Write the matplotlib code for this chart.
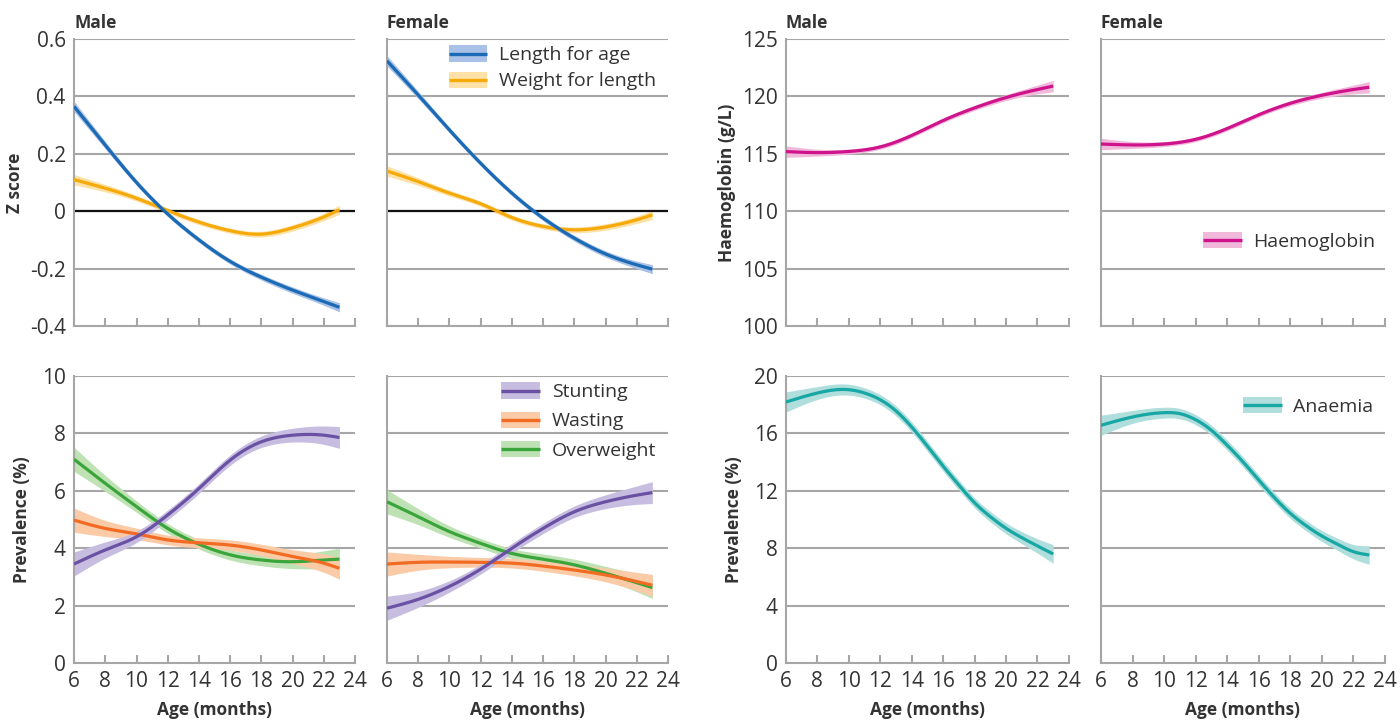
import numpy as np
import matplotlib
matplotlib.use("Agg")
import matplotlib.pyplot as plt
from matplotlib.patches import Rectangle
from matplotlib.lines import Line2D
from matplotlib.legend_handler import HandlerBase

plt.rcParams["font.family"] = ["Open Sans", "DejaVu Sans"]

# ages (months)
age = [6, 8, 10, 12, 14, 16, 18, 20, 22, 23]

# z scores
laz_male = [0.365, 0.23, 0.10, -0.01, -0.10, -0.175, -0.23, -0.275, -0.315, -0.335]
wlz_male = [0.11, 0.08, 0.045, 0.002, -0.038, -0.068, -0.08, -0.058, -0.02, 0.005]
laz_female = [0.524, 0.405, 0.283, 0.167, 0.063, -0.024, -0.094, -0.149, -0.187, -0.202]
wlz_female = [0.14, 0.103, 0.063, 0.026, -0.022, -0.053, -0.065, -0.055, -0.03, -0.013]
z_ci = [0.018, 0.013, 0.01, 0.009, 0.009, 0.009, 0.01, 0.011, 0.013, 0.016]

# prevalence (%)
stunt_male = [3.45, 3.94, 4.40, 5.16, 6.08, 7.07, 7.71, 7.94, 7.94, 7.86]
waste_male = [4.98, 4.69, 4.50, 4.29, 4.19, 4.11, 3.94, 3.71, 3.48, 3.30]
over_male = [7.10, 6.26, 5.45, 4.69, 4.14, 3.77, 3.59, 3.53, 3.59, 3.62]
stunt_female = [1.91, 2.22, 2.67, 3.27, 4.00, 4.69, 5.27, 5.62, 5.85, 5.94]
waste_female = [3.45, 3.51, 3.52, 3.51, 3.48, 3.38, 3.24, 3.07, 2.84, 2.71]
over_female = [5.62, 5.10, 4.58, 4.17, 3.82, 3.62, 3.42, 3.13, 2.80, 2.63]
prev_ci = [0.42, 0.28, 0.2, 0.17, 0.17, 0.18, 0.2, 0.24, 0.32, 0.38]

# haemoglobin (g/L)
hb_male = [115.19, 115.1, 115.2, 115.6, 116.6, 117.9, 119.0, 119.9, 120.6, 120.9]
hb_female = [115.85, 115.77, 115.85, 116.26, 117.2, 118.4, 119.4, 120.1, 120.6, 120.8]
hb_ci = [0.5, 0.3, 0.22, 0.2, 0.2, 0.2, 0.22, 0.26, 0.38, 0.5]

# anaemia (%)
age_an = [6, 8, 10, 11, 12, 13, 14, 15, 16, 17, 18, 19, 20, 21, 22, 23]
an_male = [18.19, 18.82, 19.05, 18.82, 18.35, 17.57, 16.45, 15.11, 13.72, 12.4,
           11.17, 10.2, 9.39, 8.74, 8.16, 7.6]
an_female = [16.57, 17.15, 17.45, 17.38, 16.96, 16.22, 15.18, 14.02, 12.75, 11.52,
             10.43, 9.57, 8.85, 8.27, 7.76, 7.53]
an_ci = [0.7, 0.45, 0.38, 0.36, 0.35, 0.35, 0.35, 0.35, 0.35, 0.35,
         0.35, 0.36, 0.38, 0.42, 0.5, 0.65]

C = {
    "laz": ("#1b6ab5", "#a9c1e6"),
    "wlz": ("#f6aa0a", "#fde1a6"),
    "stunt": ("#6a51a3", "#c6bde0"),
    "waste": ("#f26b22", "#fbcaa6"),
    "over": ("#3aa53a", "#bfe2b4"),
    "hb": ("#cf138c", "#f0b9da"),
    "an": ("#17a7a4", "#b0dedc"),
}

GRID = "#a6a6a6"
TXT = "#333333"


def smooth(x, y, n=300):
    # natural cubic spline through the read points
    x = np.asarray(x, float)
    y = np.asarray(y, float)
    m = len(x)
    hh = np.diff(x)
    A = np.zeros((m, m))
    r = np.zeros(m)
    A[0, 0] = A[-1, -1] = 1
    for i in range(1, m - 1):
        A[i, i - 1] = hh[i - 1]
        A[i, i] = 2 * (hh[i - 1] + hh[i])
        A[i, i + 1] = hh[i]
        r[i] = 6 * ((y[i + 1] - y[i]) / hh[i] - (y[i] - y[i - 1]) / hh[i - 1])
    M = np.linalg.solve(A, r)
    xs = np.linspace(x[0], x[-1], n)
    k = np.clip(np.searchsorted(x, xs, side="right") - 1, 0, m - 2)
    h = hh[k]
    a = (x[k + 1] - xs) / h
    b = (xs - x[k]) / h
    ys = (a * y[k] + b * y[k + 1]
          + ((a ** 3 - a) * M[k] + (b ** 3 - b) * M[k + 1]) * h ** 2 / 6)
    return xs, ys


def curve(ax, x, y, ci, key):
    line, band = C[key]
    xs, ys = smooth(x, y)
    _, cs = smooth(x, ci)
    ax.fill_between(xs, ys - cs, ys + cs, color=band, lw=0, zorder=2)
    ax.plot(xs, ys, color=line, lw=2.3, zorder=3, solid_capstyle="butt")


def style(ax, yticks, show_x):
    ax.set_xlim(6, 24)
    ax.set_ylim(yticks[0], yticks[-1])
    ax.set_yticks(yticks)
    ax.set_xticks(range(6, 25, 2))
    for s in ["top", "right"]:
        ax.spines[s].set_visible(False)
    for s in ["left", "bottom"]:
        ax.spines[s].set_color(GRID)
        ax.spines[s].set_linewidth(1.5)
    for yv in yticks[1:]:
        ax.axhline(yv, color=GRID, lw=1.5, zorder=1)
    ax.tick_params(axis="x", direction="in", length=6, width=1.5, color=GRID,
                   labelsize=15, labelcolor=TXT, pad=6)
    ax.tick_params(axis="y", length=0, labelsize=15, labelcolor=TXT, pad=6)
    if show_x:
        ax.set_xlabel("Age (months)", fontsize=12.5, fontweight="bold", color=TXT, labelpad=6)
    else:
        ax.tick_params(axis="x", labelbottom=False)


class BandKey:
    def __init__(self, key):
        self.line, self.band = C[key]


class BandHandler(HandlerBase):
    def create_artists(self, legend, orig, xdescent, ydescent, width, height, fontsize, trans):
        bh = fontsize * 0.85
        yc = -ydescent + height / 2
        r = Rectangle((-xdescent, yc - bh / 2), width, bh, facecolor=orig.band,
                      edgecolor="none", transform=trans)
        ln = Line2D([-xdescent, -xdescent + width], [yc, yc], color=orig.line, lw=2.4,
                    solid_capstyle="butt", transform=trans)
        return [r, ln]


def legend(ax, items, spacing=0.35, **kw):
    handles = [BandKey(k) for k, _ in items]
    labels = [lab for _, lab in items]
    ax.legend(handles, labels, handler_map={BandKey: BandHandler()},
              frameon=False, fontsize=14, handlelength=2.0, handleheight=1.0,
              handletextpad=0.6, labelspacing=spacing, labelcolor=TXT, **kw)


fig = plt.figure(figsize=(14, 7.21), dpi=100)
lefts = [0.0529, 0.2764, 0.5614, 0.7864]
widths = [0.2007, 0.2007, 0.2021, 0.2029]
top_b, bot_b, h = 0.5479, 0.0804, 0.398
axs_top = [fig.add_axes([l, top_b, w, h]) for l, w in zip(lefts, widths)]
axs_bot = [fig.add_axes([l, bot_b, w, h]) for l, w in zip(lefts, widths)]

z_ticks = [-0.4, -0.2, 0, 0.2, 0.4, 0.6]
z_labels = ["-0.4", "-0.2", "0", "0.2", "0.4", "0.6"]
for i, ax in enumerate(axs_top[:2]):
    style(ax, z_ticks, False)
    ax.set_yticklabels(z_labels if i == 0 else [])
    ax.axhline(0, color="#111111", lw=1.6, zorder=2.5)
curve(axs_top[0], age, wlz_male, z_ci, "wlz")
curve(axs_top[0], age, laz_male, z_ci, "laz")
curve(axs_top[1], age, wlz_female, z_ci, "wlz")
curve(axs_top[1], age, laz_female, z_ci, "laz")
axs_top[0].set_ylabel("Z score", fontsize=12.5, fontweight="bold", color=TXT, labelpad=4)
legend(axs_top[1], [("laz", "Length for age"), ("wlz", "Weight for length")],
       loc="upper right", bbox_to_anchor=(1.0, 1.02), borderaxespad=0.2)

hb_ticks = [100, 105, 110, 115, 120, 125]
for i, ax in enumerate(axs_top[2:]):
    style(ax, hb_ticks, False)
    if i == 1:
        ax.set_yticklabels([])
curve(axs_top[2], age, hb_male, hb_ci, "hb")
curve(axs_top[3], age, hb_female, hb_ci, "hb")
axs_top[2].set_ylabel("Haemoglobin (g/L)", fontsize=12.5, fontweight="bold", color=TXT, labelpad=4)
legend(axs_top[3], [("hb", "Haemoglobin")], loc="center right", bbox_to_anchor=(1.0, 0.296),
       borderaxespad=0.1)

p_ticks = [0, 2, 4, 6, 8, 10]
for i, ax in enumerate(axs_bot[:2]):
    style(ax, p_ticks, True)
    if i == 1:
        ax.set_yticklabels([])
for ax, st, wa, ov in [(axs_bot[0], stunt_male, waste_male, over_male),
                       (axs_bot[1], stunt_female, waste_female, over_female)]:
    curve(ax, age, ov, prev_ci, "over")
    curve(ax, age, wa, prev_ci, "waste")
    curve(ax, age, st, prev_ci, "stunt")
axs_bot[0].set_ylabel("Prevalence (%)", fontsize=12.5, fontweight="bold", color=TXT, labelpad=8)
legend(axs_bot[1], [("stunt", "Stunting"), ("waste", "Wasting"), ("over", "Overweight")],
       spacing=0.5, loc="upper right", bbox_to_anchor=(1.0, 1.02), borderaxespad=0.2)

a_ticks = [0, 4, 8, 12, 16, 20]
for i, ax in enumerate(axs_bot[2:]):
    style(ax, a_ticks, True)
    if i == 1:
        ax.set_yticklabels([])
curve(axs_bot[2], age_an, an_male, an_ci, "an")
curve(axs_bot[3], age_an, an_female, an_ci, "an")
axs_bot[2].set_ylabel("Prevalence (%)", fontsize=12.5, fontweight="bold", color=TXT, labelpad=8)
legend(axs_bot[3], [("an", "Anaemia")], loc="upper right", bbox_to_anchor=(1.0, 0.97),
       borderaxespad=0.2)

for ax, t in zip(axs_top, ["Male", "Female", "Male", "Female"]):
    ax.set_title(t, loc="left", fontsize=12.5, fontweight="bold", color=TXT, pad=8)

fig.savefig("out.png", dpi=100)
